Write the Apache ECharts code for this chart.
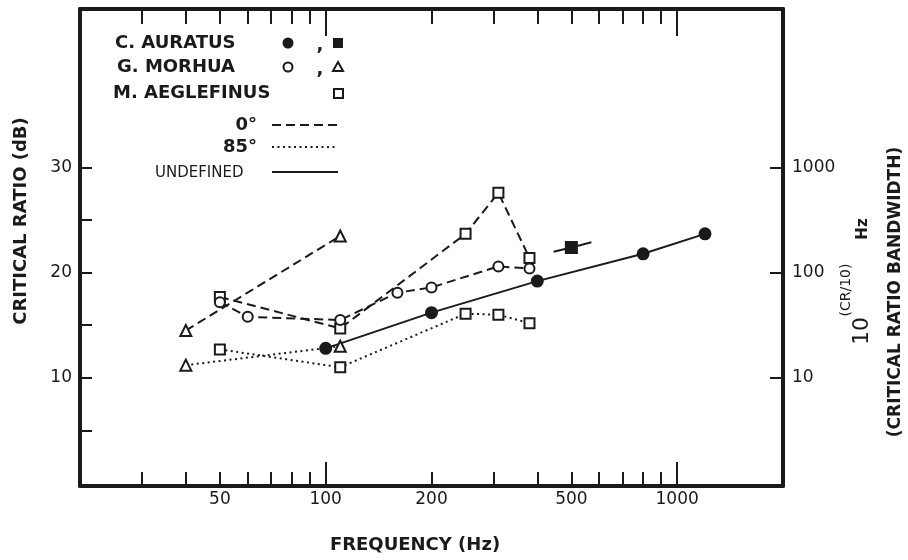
<!DOCTYPE html>
<html>
<head>
<meta charset="utf-8">
<script src="https://cdn.jsdelivr.net/npm/echarts@6/dist/echarts.min.js"></script>
<style>
html, body { margin: 0; padding: 0; background: #fff; }
#chart { width: 908px; height: 560px; }
</style>
</head>
<body>
<div id="chart"></div>
<script>
// values: frequency (Hz) / critical ratio (dB)
var auratusFreq = [100, 200, 400, 800, 1200];
var auratusDb = [12.8, 16.2, 19.2, 21.8, 23.7];
var auratusSqFreq = [445, 500, 570];
var auratusSqDb = [22.0, 22.4, 22.9];
var morhuaCircFreq = [50, 60, 110, 160, 200, 310, 380];
var morhuaCircDb = [17.2, 15.8, 15.5, 18.1, 18.6, 20.6, 20.4];
var morhuaTri0Freq = [40, 110];
var morhuaTri0Db = [14.5, 23.5];
var morhuaTri85Freq = [40, 110];
var morhuaTri85Db = [11.2, 13.0];
var aeglef0Freq = [50, 110, 250, 310, 380];
var aeglef0Db = [17.7, 14.7, 23.7, 27.6, 21.4];
var aeglef85Freq = [50, 110, 250, 310, 380];
var aeglef85Db = [12.7, 11.0, 16.1, 16.0, 15.2];

// ticks
var freqTicks = [30, 40, 50, 60, 70, 80, 90, 200, 300, 400, 500, 600, 700, 800, 900];
var freqMajor = [100, 1000];
var freqLabels = [50, 100, 200, 500, 1000];
var dbTicks = [5, 10, 15, 20, 25, 30];
var dbLabels = [10, 20, 30];
var bwTicks = [10, 20, 30]; // right side shows 10^(CR/10)

var ink = '#1a1a1a';
var font = 'DejaVu Sans';
var DASH = [9, 5];
var DOT = [2, 3.5];

function pts(xs, ys) {
    return xs.map(function (x, i) { return [x, ys[i]]; });
}

function lineSeries(xs, ys, dash, symbol, filled, size) {
    return {
        type: 'line',
        data: pts(xs, ys),
        symbol: symbol,
        symbolSize: size || 10,
        showAllSymbol: true,
        lineStyle: { color: ink, width: 2, type: dash },
        itemStyle: { color: filled ? ink : '#fff', borderColor: ink, borderWidth: 2 },
        emphasis: { disabled: true },
        silent: true
    };
}

function freqAxis(pos, tickVals, len, showLine, showLabel) {
    return {
        type: 'log', logBase: 10, min: 20, max: 2000, position: pos,
        axisLine: { show: showLine, onZero: false, lineStyle: { color: ink, width: 4 } },
        axisTick: { show: true, inside: true, length: len, customValues: tickVals,
            lineStyle: { color: ink, width: 2 } },
        axisLabel: { show: showLabel, customValues: freqLabels, margin: 5,
            color: ink, fontSize: 17, fontFamily: font,
            formatter: function (v) { return String(Math.round(v)); } },
        splitLine: { show: false },
        minorTick: { show: false }
    };
}

var chart = echarts.init(document.getElementById('chart'));

var sqSeries = lineSeries(auratusSqFreq, auratusSqDb, 'solid', 'rect', true, 11);
sqSeries.symbol = function (v, p) { return p.dataIndex === 1 ? 'rect' : 'none'; };

chart.setOption({
    animation: false,
    backgroundColor: '#fff',
    grid: { left: 80, right: 125, top: 9, bottom: 74, outerBoundsMode: 'none' },
    xAxis: [
        freqAxis('bottom', freqTicks, 14, true, true),
        freqAxis('bottom', freqMajor, 24, false, false),
        freqAxis('top', freqTicks, 15, true, false),
        freqAxis('top', freqMajor, 27, false, false)
    ],
    yAxis: [
        {
            type: 'value', min: -0.3, max: 45.1, position: 'left',
            axisLine: { show: true, onZero: false, lineStyle: { color: ink, width: 4 } },
            axisTick: { show: true, inside: true, length: 12, customValues: dbTicks,
                lineStyle: { color: ink, width: 2 } },
            axisLabel: { customValues: dbLabels, margin: 8, color: ink, fontSize: 17, fontFamily: font },
            splitLine: { show: false }
        },
        {
            type: 'value', min: -0.3, max: 45.1, position: 'right',
            axisLine: { show: true, onZero: false, lineStyle: { color: ink, width: 4 } },
            axisTick: { show: true, inside: true, length: 13, customValues: bwTicks,
                lineStyle: { color: ink, width: 2 } },
            axisLabel: { customValues: bwTicks, margin: 9, color: ink, fontSize: 17, fontFamily: font,
                formatter: function (v) { return String(Math.round(Math.pow(10, v / 10))); } },
            splitLine: { show: false }
        }
    ],
    series: [
        lineSeries(morhuaTri0Freq, morhuaTri0Db, DASH, 'triangle', false, 11),
        lineSeries(morhuaTri85Freq, morhuaTri85Db, DOT, 'triangle', false, 11),
        lineSeries(aeglef85Freq, aeglef85Db, DOT, 'rect', false, 10),
        lineSeries(aeglef0Freq, aeglef0Db, DASH, 'rect', false, 10),
        lineSeries(morhuaCircFreq, morhuaCircDb, DASH, 'circle', false, 10),
        lineSeries(auratusFreq, auratusDb, 'solid', 'circle', true, 11),
        sqSeries
    ],
    graphic: [
        // axis titles
        { type: 'text', x: 21, y: 221, rotation: Math.PI / 2, z: 100,
          style: { text: 'CRITICAL RATIO (dB)', font: 'bold 18px "DejaVu Sans"', fill: ink, align: 'center', verticalAlign: 'middle' } },
        { type: 'text', x: 415, y: 545, z: 100,
          style: { text: 'FREQUENCY (Hz)', font: 'bold 18px "DejaVu Sans"', fill: ink, align: 'center', verticalAlign: 'middle' } },
        { type: 'text', x: 862, y: 331, rotation: Math.PI / 2, z: 100,
          style: { text: '10', font: '22px "DejaVu Sans"', fill: ink, align: 'center', verticalAlign: 'middle' } },
        { type: 'text', x: 846, y: 290, rotation: Math.PI / 2, z: 100,
          style: { text: '(CR/10)', font: '14px "DejaVu Sans"', fill: ink, align: 'center', verticalAlign: 'middle' } },
        { type: 'text', x: 863, y: 229, rotation: Math.PI / 2, z: 100,
          style: { text: 'Hz', font: 'bold 15px "DejaVu Sans"', fill: ink, align: 'center', verticalAlign: 'middle' } },
        { type: 'text', x: 896, y: 292, rotation: Math.PI / 2, z: 100,
          style: { text: '(CRITICAL RATIO BANDWIDTH)', font: 'bold 17px "DejaVu Sans"', fill: ink, align: 'center', verticalAlign: 'middle' } },
        // key
        { type: 'text', x: 115, y: 43, z: 100,
          style: { text: 'C. AURATUS', font: 'bold 18px "DejaVu Sans"', fill: ink, align: 'left', verticalAlign: 'middle' } },
        { type: 'text', x: 117, y: 67, z: 100,
          style: { text: 'G. MORHUA', font: 'bold 18px "DejaVu Sans"', fill: ink, align: 'left', verticalAlign: 'middle' } },
        { type: 'text', x: 113, y: 93, z: 100,
          style: { text: 'M. AEGLEFINUS', font: 'bold 18px "DejaVu Sans"', fill: ink, align: 'left', verticalAlign: 'middle' } },
        { type: 'text', x: 257, y: 125, z: 100,
          style: { text: '0°', font: 'bold 18px "DejaVu Sans"', fill: ink, align: 'right', verticalAlign: 'middle' } },
        { type: 'text', x: 257, y: 147, z: 100,
          style: { text: '85°', font: 'bold 18px "DejaVu Sans"', fill: ink, align: 'right', verticalAlign: 'middle' } },
        { type: 'text', x: 155, y: 173, z: 100,
          style: { text: 'UNDEFINED', font: '15px "DejaVu Sans"', fill: ink, align: 'left', verticalAlign: 'middle' } },
        { type: 'text', x: 320, y: 45, z: 100,
          style: { text: ',', font: 'bold 18px "DejaVu Sans"', fill: ink, align: 'center', verticalAlign: 'middle' } },
        { type: 'text', x: 320, y: 69, z: 100,
          style: { text: ',', font: 'bold 18px "DejaVu Sans"', fill: ink, align: 'center', verticalAlign: 'middle' } },
        { type: 'circle', z: 100, shape: { cx: 288, cy: 43, r: 5.5 }, style: { fill: ink } },
        { type: 'rect', z: 100, shape: { x: 333, y: 38, width: 10, height: 10 }, style: { fill: ink } },
        { type: 'circle', z: 100, shape: { cx: 288, cy: 67, r: 4.5 }, style: { fill: '#fff', stroke: ink, lineWidth: 2 } },
        { type: 'polygon', z: 100, shape: { points: [[338, 62], [343, 71], [333, 71]] }, style: { fill: '#fff', stroke: ink, lineWidth: 2 } },
        { type: 'rect', z: 100, shape: { x: 334, y: 89, width: 9, height: 9 }, style: { fill: '#fff', stroke: ink, lineWidth: 2 } },
        { type: 'line', z: 100, shape: { x1: 272, y1: 125, x2: 338, y2: 125 }, style: { stroke: ink, lineWidth: 2, lineDash: DASH } },
        { type: 'line', z: 100, shape: { x1: 272, y1: 147, x2: 338, y2: 147 }, style: { stroke: ink, lineWidth: 2, lineDash: DOT } },
        { type: 'line', z: 100, shape: { x1: 272, y1: 172, x2: 338, y2: 172 }, style: { stroke: ink, lineWidth: 2 } }
    ]
});
</script>
</body>
</html>
